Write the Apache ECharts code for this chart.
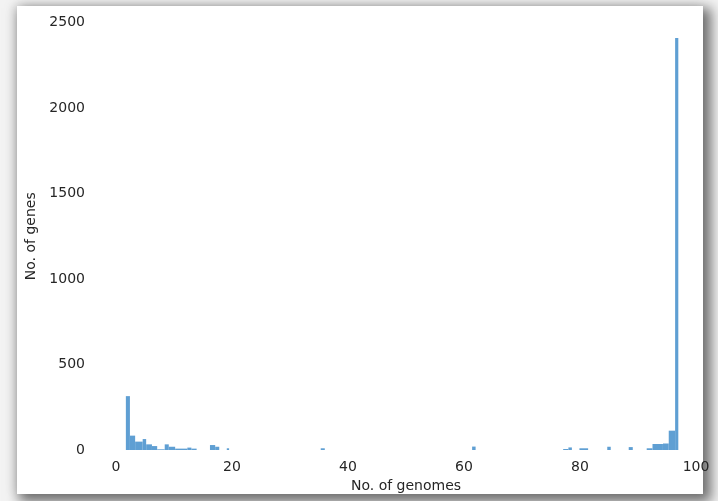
<!DOCTYPE html>
<html>
<head>
<meta charset="utf-8">
<script src="https://cdn.jsdelivr.net/npm/echarts@6/dist/echarts.min.js"></script>
<style>
  html, body { margin: 0; padding: 0; width: 718px; height: 501px; overflow: hidden; background: #f3f3f3; }
  #card { position: absolute; left: 17px; top: 6px; width: 686px; height: 488px; background: #ffffff;
          box-shadow: 5px 5px 12px 3px rgba(0,0,0,0.55), -4px -2px 10px rgba(0,0,0,0.06); }
  #chart { position: absolute; left: 0; top: 0; width: 718px; height: 501px; }
</style>
</head>
<body>
<div id="card"></div>
<div id="chart"></div>
<script>
// Histogram bins (No. of genomes)
const binStart = [1.7, 2.4, 3.3, 4.6, 5.2, 6.2, 7.1, 8.4, 9.1, 10.2, 12.3, 13.0, 16.2, 17.1, 19.1,
                  35.3, 61.4, 77.1, 78.0, 79.9, 84.7, 88.4, 91.5, 92.5, 94.3, 95.3, 96.4];
const binEnd   = [2.4, 3.3, 4.6, 5.2, 6.2, 7.1, 8.4, 9.1, 10.2, 12.3, 13.0, 13.9, 17.1, 17.8, 19.5,
                  36.0, 62.0, 78.0, 78.6, 81.4, 85.3, 89.1, 92.5, 94.3, 95.3, 96.4, 96.95];
const geneCounts = [315, 84, 49, 64, 33, 23, 4, 33, 19, 8, 14, 8, 29, 19, 10,
                    10, 20, 6, 15, 10, 19, 17, 10, 35, 38, 113, 2410];
const xTicks = [0, 20, 40, 60, 80, 100];
const yTicks = [0, 500, 1000, 1500, 2000, 2500];

const data = binStart.map((s, i) => [s, binEnd[i], geneCounts[i]]);
const chart = echarts.init(document.getElementById('chart'));
const txt = '#262626';
chart.setOption({
  animation: false,
  grid: { left: 116, right: 22, top: 22.5, bottom: 51 },
  xAxis: {
    type: 'value', min: xTicks[0], max: xTicks[xTicks.length - 1], interval: 20,
    name: 'No. of genomes', nameLocation: 'middle', nameGap: 28,
    nameTextStyle: { color: txt, fontSize: 14, fontFamily: 'DejaVu Sans' },
    axisLine: { show: false }, axisTick: { show: false }, splitLine: { show: false },
    axisLabel: { color: txt, fontSize: 14, fontFamily: 'DejaVu Sans', margin: 10,
                 formatter: v => String(v) }
  },
  yAxis: {
    type: 'value', min: yTicks[0], max: yTicks[yTicks.length - 1], interval: 500,
    name: 'No. of genes', nameLocation: 'middle', nameGap: 73,
    nameTextStyle: { color: txt, fontSize: 14, fontFamily: 'DejaVu Sans' },
    axisLine: { show: false }, axisTick: { show: false }, splitLine: { show: false },
    axisLabel: { color: txt, fontSize: 14, fontFamily: 'DejaVu Sans', margin: 31,
                 formatter: v => String(v) }
  },
  series: [{
    type: 'custom',
    data: data,
    encode: { x: [0, 1], y: 2 },
    renderItem: function (params, api) {
      const p0 = api.coord([api.value(0), api.value(2)]);
      const p1 = api.coord([api.value(1), 0]);
      return {
        type: 'rect',
        shape: { x: p0[0], y: p0[1], width: p1[0] - p0[0], height: p1[1] - p0[1] },
        style: { fill: '#5f9fd3' }
      };
    }
  }]
});
</script>
</body>
</html>
